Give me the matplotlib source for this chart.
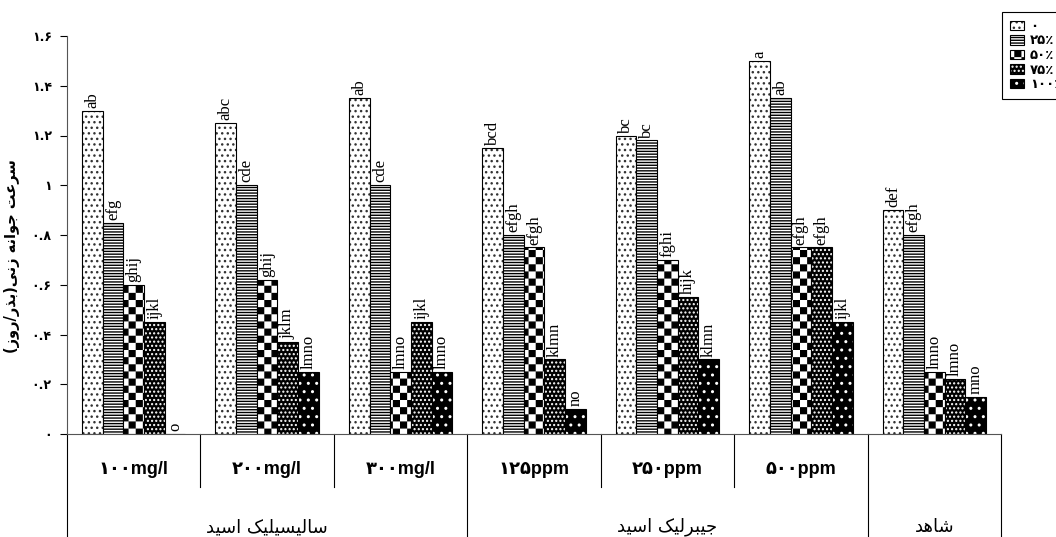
import numpy as np
import matplotlib
matplotlib.use("Agg")
import matplotlib.pyplot as plt
import matplotlib.hatch as mhatch
import matplotlib.transforms as mtransforms
from matplotlib.colors import to_rgba
from matplotlib.path import Path

# ---- data ----
level1 = ["۱۰۰mg/l", "۲۰۰mg/l", "۳۰۰mg/l", "۱۲۵ppm", "۲۵۰ppm", "۵۰۰ppm", ""]
level2 = ["سالیسیلیک اسید", "جیبرلیک اسید", "شاهد"]
level2_span = [(0, 2), (3, 5), (6, 6)]
series_names = ["۰", "۲۵٪", "۵۰٪", "۷۵٪", "۱۰۰٪"]

s0 = [1.30, 1.25, 1.35, 1.15, 1.20, 1.50, 0.90]
s25 = [0.85, 1.00, 1.00, 0.80, 1.18, 1.35, 0.80]
s50 = [0.60, 0.62, 0.25, 0.75, 0.70, 0.75, 0.25]
s75 = [0.45, 0.37, 0.45, 0.30, 0.55, 0.75, 0.22]
s100 = [0.00, 0.25, 0.25, 0.10, 0.30, 0.45, 0.15]
values = [s0, s25, s50, s75, s100]

l0 = ["ab", "abc", "ab", "bcd", "bc", "a", "def"]
l25 = ["efg", "cde", "cde", "efgh", "bc", "ab", "efgh"]
l50 = ["ghij", "ghij", "lmno", "efgh", "fghi", "efgh", "lmno"]
l75 = ["ijkl", "jklm", "ijkl", "klmn", "hijk", "efgh", "lmno"]
l100 = ["o", "lmno", "lmno", "no", "klmn", "ijkl", "mno"]
letters = [l0, l25, l50, l75, l100]

yticks = [0, 0.2, 0.4, 0.6, 0.8, 1.0, 1.2, 1.4, 1.6]
ytick_labels = ["۰", "۰.۲", "۰.۴", "۰.۶", "۰.۸", "۱", "۱.۲", "۱.۴", "۱.۶"]
ylabel = "سرعت جوانه زنی(بذر/روز)"

# ---- minimal arabic shaping (matplotlib has no bidi / joining) ----
FORMS = {
    "ا": ("\uFE8D", "\uFE8E", None, None),
    "ب": ("\uFE8F", "\uFE90", "\uFE91", "\uFE92"),
    "ت": ("\uFE95", "\uFE96", "\uFE97", "\uFE98"),
    "ج": ("\uFE9D", "\uFE9E", "\uFE9F", "\uFEA0"),
    "د": ("\uFEA9", "\uFEAA", None, None),
    "ذ": ("\uFEAB", "\uFEAC", None, None),
    "ر": ("\uFEAD", "\uFEAE", None, None),
    "ز": ("\uFEAF", "\uFEB0", None, None),
    "س": ("\uFEB1", "\uFEB2", "\uFEB3", "\uFEB4"),
    "ش": ("\uFEB5", "\uFEB6", "\uFEB7", "\uFEB8"),
    "ع": ("\uFEC9", "\uFECA", "\uFECB", "\uFECC"),
    "ل": ("\uFEDD", "\uFEDE", "\uFEDF", "\uFEE0"),
    "ن": ("\uFEE5", "\uFEE6", "\uFEE7", "\uFEE8"),
    "ه": ("\uFEE9", "\uFEEA", "\uFEEB", "\uFEEC"),
    "و": ("\uFEED", "\uFEEE", None, None),
    "ی": ("\uFBFC", "\uFBFD", "\uFBFE", "\uFBFF"),
    "ک": ("\uFB8E", "\uFB8F", "\uFB90", "\uFB91"),
}
MIRROR = {"(": ")", ")": "("}


def fa(text):
    out = []
    for i, ch in enumerate(text):
        if ch not in FORMS:
            out.append(MIRROR.get(ch, ch))
            continue
        f = FORMS[ch]
        prev = text[i - 1] if i > 0 else ""
        nxt = text[i + 1] if i + 1 < len(text) else ""
        jp = prev in FORMS and FORMS[prev][2] is not None
        jn = f[2] is not None and nxt in FORMS
        if jp and jn:
            out.append(f[3])
        elif jp:
            out.append(f[1])
        elif jn:
            out.append(f[2])
        else:
            out.append(f[0])
    return "".join(reversed(out))


# ---- checkerboard hatch, used for the '*' character ----
class CheckerHatch(mhatch.HatchPatternBase):
    def __init__(self, hatch, density):
        self.n = 14 if "*" in hatch else 0
        self.num_vertices = (self.n * self.n // 2) * 5

    def set_vertices_and_codes(self, vertices, codes):
        s = 1.0 / self.n
        inset = plt.rcParams["hatch.linewidth"] / 72 / 2
        i = 0
        for r in range(self.n):
            for c in range(self.n):
                if (r + c) % 2:
                    continue
                x0, y0 = c * s + inset, r * s + inset
                x1, y1 = (c + 1) * s - inset, (r + 1) * s - inset
                vertices[i:i + 5] = [(x0, y0), (x1, y0), (x1, y1), (x0, y1), (x0, y0)]
                codes[i:i + 5] = [Path.MOVETO, Path.LINETO, Path.LINETO,
                                  Path.LINETO, Path.CLOSEPOLY]
                i += 5


mhatch._hatch_types[mhatch._hatch_types.index(mhatch.Stars)] = CheckerHatch

styles = [
    dict(face="white", hatch="...", hcolor="#333333"),
    dict(face="white", hatch="------", hcolor="black"),
    dict(face="white", hatch="*", hcolor="black"),
    dict(face="black", hatch="....", hcolor="white"),
    dict(face="black", hatch="..", hcolor="white"),
]

fig = plt.figure(figsize=(10.56, 5.37), dpi=100)
ax = fig.add_axes([67 / 1056, 1 - 434 / 537, (1001 - 67) / 1056, (434 - 36) / 537])

x = np.arange(len(level1))
w = 0.155
handles = []
for k, (vals, st) in enumerate(zip(values, styles)):
    bars = ax.bar(x + (k - 2) * w, vals, w, facecolor=st["face"], edgecolor="black",
                  hatch=st["hatch"], linewidth=0.8, label=series_names[k])
    for p in bars:
        p._hatch_color = to_rgba(st["hcolor"])
    for xi, v, lab in zip(x + (k - 2) * w, vals, letters[k]):
        ax.annotate(lab, (xi, v), xytext=(0, 2), textcoords="offset points",
                    rotation=90, ha="center", va="bottom",
                    family="Liberation Serif", fontsize=12)
    handles.append(bars)

ax.set_xlim(-0.5, len(level1) - 0.5)
ax.set_ylim(0, 1.6)
ax.set_yticks(yticks)
ax.set_yticklabels(ytick_labels, fontsize=9, fontweight="bold", family="DejaVu Sans")
ax.tick_params(axis="y", length=5, width=0.8, pad=6)
ax.set_xticks([])
for s in ["top", "right"]:
    ax.spines[s].set_visible(False)
ax.spines["left"].set_color("#555555")
ax.spines["bottom"].set_color("#555555")

ax.set_ylabel(fa(ylabel), fontsize=10.5, fontweight="bold", family="DejaVu Sans")
ax.yaxis.set_label_coords(-0.05, 0.447)

# multi level category axis
tr = mtransforms.blended_transform_factory(ax.transData, ax.transAxes)
for i, lab in enumerate(level1):
    ax.text(i, -0.09, lab, transform=tr, ha="center", va="center",
            fontsize=13, fontweight="bold", family=["Liberation Sans", "DejaVu Sans"])
for xs in [0.5, 1.5, 3.5, 4.5]:
    ax.plot([xs, xs], [0, -0.133], transform=tr, color="black", lw=0.8, clip_on=False)
for xs in [-0.5, 2.5, 5.5, 6.5]:
    ax.plot([xs, xs], [0, -0.3], transform=tr, color="black", lw=0.8, clip_on=False)
for lab, (a, b) in zip(level2, level2_span):
    ax.text((a + b) / 2, -0.234, fa(lab), transform=tr, ha="center", va="center",
            fontsize=13, family="DejaVu Sans")

leg = ax.legend(handles=handles, loc="upper left", bbox_to_anchor=(1002 / 1056, 1 - 12 / 537),
                bbox_transform=fig.transFigure, borderaxespad=0, fancybox=False,
                edgecolor="black", framealpha=1, prop=dict(family="DejaVu Sans", weight="bold", size=9.5),
                handlelength=1.1, handleheight=0.7, handletextpad=0.4, labelspacing=0.12,
                borderpad=0.6)
leg.get_frame().set_linewidth(0.8)

fig.savefig("out.png", dpi=100)
